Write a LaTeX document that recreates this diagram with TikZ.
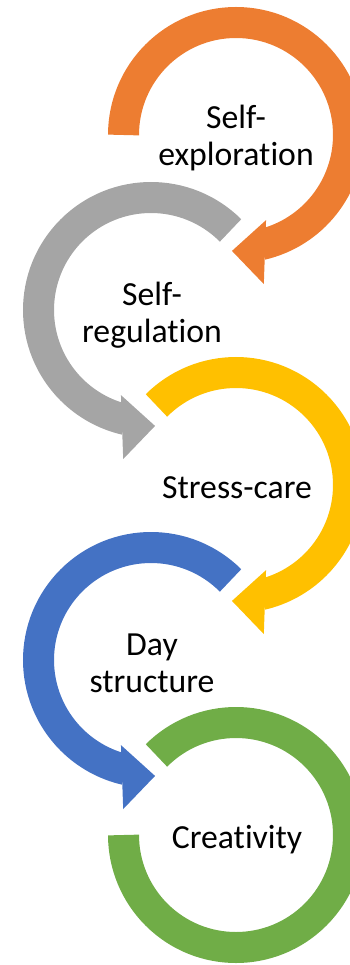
\documentclass[tikz,border=0pt]{standalone}
\usepackage{fontspec}
\setmainfont{Carlito}[Ligatures={NoCommon}]
\usepackage{tikz}
\usetikzlibrary{positioning}
\definecolor{corange}{HTML}{ED7D31}
\definecolor{cgray}{HTML}{A5A5A5}
\definecolor{cyellow}{HTML}{FFC000}
\definecolor{cblue}{HTML}{4472C4}
\definecolor{cgreen}{HTML}{70AD47}
\tikzstyle{ring} = [draw, line width=31pt]
\tikzstyle{tnode} = [align=center, inner sep=0pt, anchor=base, font=\fontsize{33.7}{37}\selectfont]

\begin{document}
\begin{tikzpicture}[x=1pt, y=1pt]
	\useasboundingbox (0,0) rectangle (349,-965);
	\coordinate (c1) at (236,-135);
	\coordinate (c2) at (151,-310);
	\coordinate (c3) at (236,-485);
	\coordinate (c4) at (151,-660);
	\coordinate (c5) at (236,-835);

	% rings and heads
	\path [ring, corange] ([shift={(180:112.5)}]c1) arc (180:-77:112.5);
	\fill [corange, shift={(c1)}, rotate=-92] (116,0) -- (148,33) -- (84,33) -- cycle;
	\path [ring, cgray] ([shift={(45:112.5)}]c2) arc (45:257:112.5);
	\fill [cgray, shift={(c2)}, rotate=-88] (116,0) -- (148,-33) -- (84,-33) -- cycle;
	\path [ring, cyellow] ([shift={(135:112.5)}]c3) arc (135:-77:112.5);
	\fill [cyellow, shift={(c3)}, rotate=-92] (116,0) -- (148,33) -- (84,33) -- cycle;
	\path [ring, cblue] ([shift={(45:112.5)}]c4) arc (45:257:112.5);
	\fill [cblue, shift={(c4)}, rotate=-88] (116,0) -- (148,-33) -- (84,-33) -- cycle;
	\path [ring, cgreen] ([shift={(135:112.5)}]c5) arc (135:-180:112.5);

	% texts
	\node [tnode] (explore) at (236,-166) {Self-\\exploration};
	\node [tnode] (regulate) at (152,-342) {Self-\\regulation};
	\node [tnode] (stress) at (237,-498) {Stress-care};
	\node [tnode] (day) at (152,-692) {Day\\structure};
	\node [tnode] (create) at (237,-848) {Creativity};
\end{tikzpicture}
\end{document}
